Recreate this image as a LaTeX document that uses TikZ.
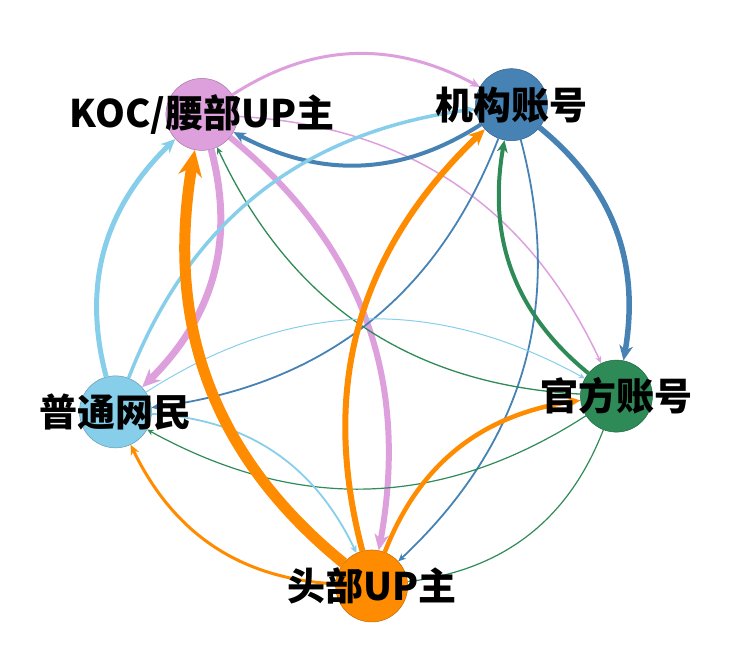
\documentclass[tikz,border=0pt]{standalone}
\usepackage{fontspec}
\newfontfamily\cjk{Noto Sans CJK SC}
\usetikzlibrary{arrows.meta,bending}

\begin{document}
\begin{tikzpicture}[
  x=1pt, y=1pt,
  member/.style={circle, draw=#1!75!black, fill=#1, line width=0.5pt,
    minimum size=72pt, inner sep=0pt},
  rolename/.style={font=\cjk\bfseries\fontsize{38}{40}\selectfont, text=black, inner sep=0pt},
  link/.style={-{Stealth[length=4pt 2, width'=0pt 0.9, inset'=0pt 0.3]}, draw=#1, bend left=31}
]
\definecolor{KPink}{HTML}{DDA0DD}
\definecolor{JBlue}{HTML}{4682B4}
\definecolor{GGreen}{HTML}{2E8B57}
\definecolor{PSky}{HTML}{87CEEB}
\definecolor{TOrange}{HTML}{FF8C00}

\useasboundingbox (-363.4,-323.4) rectangle (378.6,322.6);

% five accounts on a circle
\node[member=KPink] (koc) at (127.8:263.5) {};
\node[member=JBlue] (org) at (55.8:263.5) {};
\node[member=GGreen] (official) at (-16.2:263.5) {};
\node[member=TOrange] (head) at (-88.2:263.5) {};
\node[member=PSky] (netizen) at (-160.2:263.5) {};

% from KOC
\draw[link=KPink, line width=3pt] (koc) to (org);
\draw[link=KPink, line width=1.5pt] (koc) to (official);
\draw[link=KPink, line width=7pt] (koc) to (netizen);
\draw[link=KPink, line width=6pt] (koc) to (head);
% from org
\draw[link=JBlue, line width=4pt] (org) to (koc);
\draw[link=JBlue, line width=5.5pt] (org) to (official);
\draw[link=JBlue, line width=1.8pt] (org) to (netizen);
\draw[link=JBlue, line width=1.8pt] (org) to (head);
% from official
\draw[link=GGreen, line width=4pt] (official) to (org);
\draw[link=GGreen, line width=1.3pt] (official) to (koc);
\draw[link=GGreen, line width=1.2pt] (official) to (netizen);
\draw[link=GGreen, line width=1.2pt] (official) to (head);
% from netizen
\draw[link=PSky, line width=5pt] (netizen) to (koc);
\draw[link=PSky, line width=3.5pt] (netizen) to (org);
\draw[link=PSky, line width=1pt] (netizen) to (official);
\draw[link=PSky, line width=1.8pt] (netizen) to (head);
% from head
\draw[link=TOrange, line width=11pt] (head) to (koc);
\draw[link=TOrange, line width=6pt] (head) to (org);
\draw[link=TOrange, line width=4.5pt] (head) to (official);
\draw[link=TOrange, line width=3pt] (head) to (netizen);

% names on top
\node[rolename] (koc-name) at (koc) {KOC/腰部UP主};
\node[rolename] (org-name) at (org) {机构账号};
\node[rolename] (official-name) at (official) {官方账号};
\node[rolename] (head-name) at (head) {头部UP主};
\node[rolename] (netizen-name) at (netizen) {普通网民};
\end{tikzpicture}
\end{document}
